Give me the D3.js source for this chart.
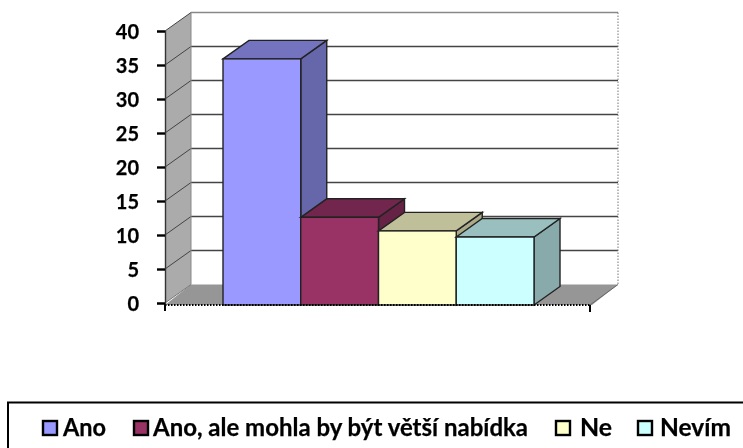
<!DOCTYPE html>
<html><head><meta charset="utf-8">
<script src="https://cdn.jsdelivr.net/npm/d3@7"></script>
<style>html,body{margin:0;padding:0;background:#fff}svg{display:block}text{font-family:Lato,sans-serif;font-weight:700;fill:#000;stroke:#000;stroke-width:.25px}</style>
</head><body><svg id="c" width="743" height="448"></svg>
<script>
const categories=["Ano","Ano, ale mohla by být větší nabídka","Ne","Nevím"];
const values=[35.9,12.6,10.6,9.7];
const frontColors=["#9999ff","#993366","#ffffcc","#ccffff"];
const topColors=["#7373bf","#73264d","#bfbf99","#99bfbf"];
const sideColors=["#6666aa","#662244","#aaaa88","#88aaaa"];
const yTicks=[0,5,10,15,20,25,30,35,40];
const legendX=[43,134,556,638];
const legendW=[43,375,32,71];
const legendGap=[20,19,24,22];

const svg=d3.select("#c");
const defs=svg.append("defs");
defs.append("filter").attr("id","soft").attr("x","-5%").attr("y","-5%").attr("width","110%").attr("height","110%")
 .append("feGaussianBlur").attr("stdDev",0.55);
defs.append("filter").attr("id","softText").attr("x","-5%").attr("y","-5%").attr("width","110%").attr("height","110%")
 .append("feGaussianBlur").attr("stdDev",0.3);
const y=d3.scaleLinear().domain([0,40]).range([303,31]);
const x=d3.scaleBand().domain(categories).range([223,534]);
const dx=26,dy=-18.5,wallRight=618;
const g=svg.append("g").attr("filter","url(#soft)");
const poly=(pts,fill,stroke,sw)=>g.append("polygon").attr("points",pts.map(p=>p.join(",")).join(" ")).attr("fill",fill).attr("stroke",stroke||"none").attr("stroke-width",sw||0);

// walls and floor
g.append("rect").attr("x",165+dx).attr("y",y(40)+dy).attr("width",wallRight-165-dx).attr("height",y(0)-y(40)).attr("fill","#fff");
poly([[165,y(40)],[165+dx,y(40)+dy],[165+dx,y(0)+dy],[165,y(0)]],"#ababab");
poly([[165,y(0)+2],[165+dx,y(0)+dy],[wallRight,y(0)+dy],[wallRight-dx,y(0)+2]],"#969696");
// gridlines
yTicks.slice(1).forEach(t=>{
  g.append("line").attr("x1",165).attr("y1",y(t)).attr("x2",165+dx).attr("y2",y(t)+dy).attr("stroke","#444").attr("stroke-width",1);
  g.append("line").attr("x1",165+dx).attr("y1",y(t)+dy).attr("x2",wallRight).attr("y2",y(t)+dy).attr("stroke",t==40?"#888":"#444").attr("stroke-width",1.5);
});
g.append("line").attr("x1",165).attr("y1",y(0)).attr("x2",165+dx).attr("y2",y(0)+dy).attr("stroke","#777");
g.append("line").attr("x1",165+dx).attr("y1",y(40)+dy).attr("x2",165+dx).attr("y2",y(0)+dy).attr("stroke","#888");
g.append("line").attr("x1",wallRight).attr("y1",y(40)+dy).attr("x2",wallRight).attr("y2",y(0)+dy).attr("stroke","#777").attr("stroke-dasharray","1.5,1.5");
g.append("line").attr("x1",wallRight).attr("y1",y(0)+dy).attr("x2",wallRight-dx-2).attr("y2",y(0)+2).attr("stroke","#666");

// bars
categories.forEach((c,i)=>{
  const l=x(c),r=l+x.bandwidth(),t=y(values[i]),b=y(0)+2,s="#222",sw=1.4;
  poly([[r,t],[r+dx,t+dy],[r+dx,b+dy],[r,b]],sideColors[i],s,sw);
  poly([[l,t],[l+dx,t+dy],[r+dx,t+dy],[r,t]],topColors[i],s,sw);
  g.append("rect").attr("x",l).attr("y",t).attr("width",r-l).attr("height",b-t).attr("fill",frontColors[i]).attr("stroke",s).attr("stroke-width",sw);
});

// bottom dotted axis
g.append("line").attr("x1",165).attr("y1",305).attr("x2",590).attr("y2",305).attr("stroke","#000").attr("stroke-width",1.8).attr("stroke-dasharray","1.5,1.5");
g.append("line").attr("x1",590).attr("y1",305).attr("x2",590).attr("y2",312).attr("stroke","#000").attr("stroke-width",2);
g.append("line").attr("x1",165).attr("y1",303).attr("x2",165).attr("y2",311).attr("stroke","#000").attr("stroke-width",2);

// y axis
const axis=svg.append("g").attr("transform","translate(165,0)").call(d3.axisLeft(y).tickValues(yTicks).tickSize(8).tickPadding(18));
axis.select(".domain").attr("stroke","#333").attr("stroke-width",1.4);
axis.selectAll(".tick line").attr("stroke","#000").attr("stroke-width",2.4);
axis.selectAll("text").style("font-size","20px").style("font-family","Lato,sans-serif").attr("dy","0.36em").attr("filter","url(#softText)");

// legend
svg.append("rect").attr("x",8).attr("y",402.5).attr("width",800).attr("height",80).attr("fill","#fff").attr("stroke","#000").attr("stroke-width",2);
categories.forEach((c,i)=>{
  svg.append("rect").attr("x",legendX[i]).attr("y",421).attr("width",14).attr("height",14).attr("fill",frontColors[i]).attr("stroke","#000").attr("stroke-width",2.4);
  svg.append("text").attr("x",legendX[i]+legendGap[i]).attr("y",436).text(c).style("font-size","24px")
    .attr("textLength",legendW[i]).attr("lengthAdjust","spacingAndGlyphs").attr("filter","url(#softText)");
});
</script></body></html>
